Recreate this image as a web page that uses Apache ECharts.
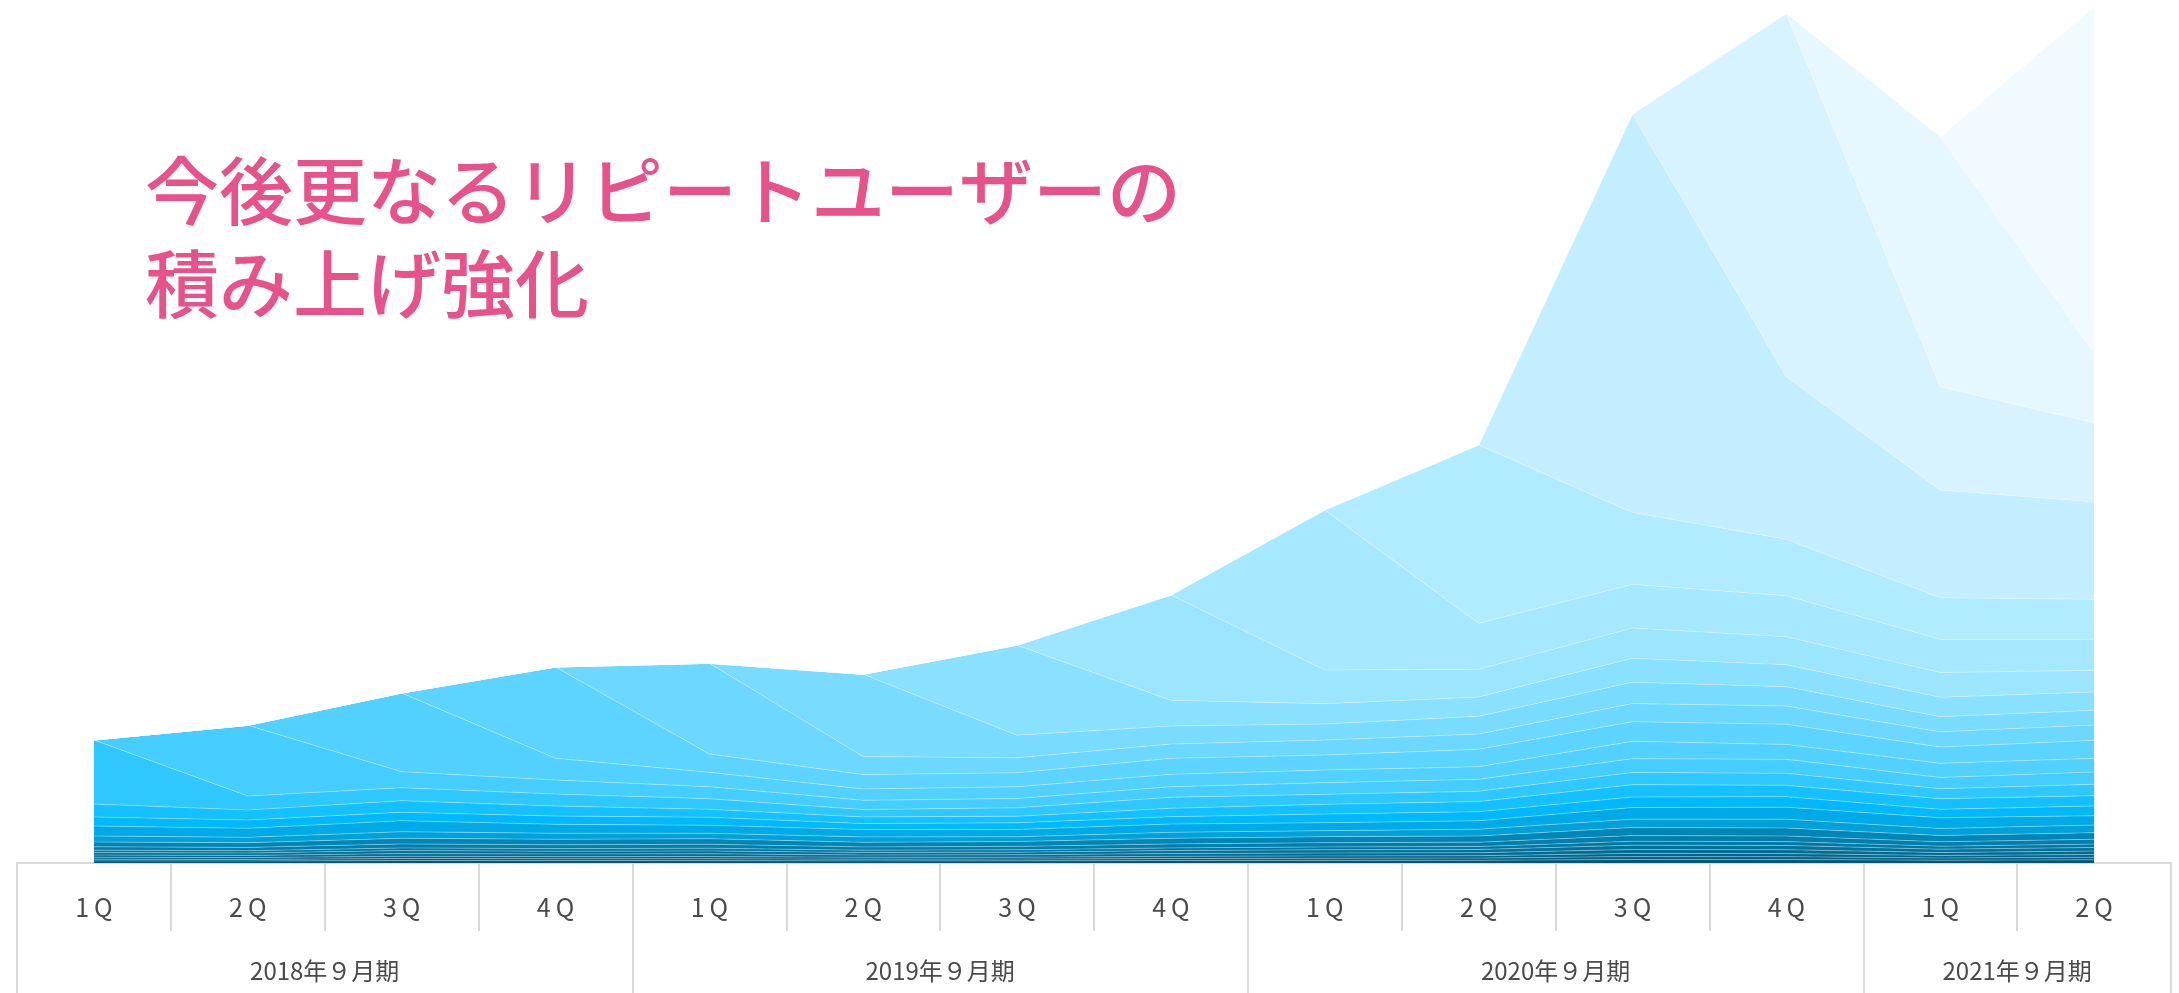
<!DOCTYPE html>
<html lang="ja">
<head>
<meta charset="utf-8">
<title>リピートユーザーの積み上げ</title>
<script src="https://cdn.jsdelivr.net/npm/echarts@6/dist/echarts.min.js"></script>
<style>
  html, body { margin: 0; padding: 0; background: #ffffff; }
  #chart { width: 2179px; height: 993px; }
</style>
</head>
<body>
<div id="chart"></div>
<script>
// ---- 軸ラベル ----
const quarters = ['1Q','2Q','3Q','4Q','1Q','2Q','3Q','4Q','1Q','2Q','3Q','4Q','1Q','2Q'];
const fiscalYears = ['2018年９月期', '2019年９月期', '2020年９月期', '2021年９月期'];
const quartersPerYear = [4, 4, 4, 2];

// ---- 2018年9月期より前に獲得したユーザー層（下から順） ----
const earlier01 = [2.1, 2.0, 2.5, 2.4, 2.4, 2.1, 2.2, 2.5, 2.6, 2.7, 3.6, 3.5, 2.8, 3.2];
const earlier02 = [1.7, 1.6, 2.0, 1.9, 1.9, 1.7, 1.7, 2.0, 2.1, 2.2, 2.8, 2.8, 2.2, 2.5];
const earlier03 = [1.9, 1.8, 2.2, 2.1, 2.2, 1.9, 1.9, 2.2, 2.4, 2.4, 3.2, 3.1, 2.5, 2.8];
const earlier04 = [2.3, 2.2, 2.7, 2.6, 2.7, 2.3, 2.4, 2.7, 2.9, 3.0, 3.9, 3.9, 3.0, 3.4];
const earlier05 = [2.5, 2.4, 3.0, 2.8, 2.9, 2.5, 2.6, 3.0, 3.2, 3.2, 4.3, 4.2, 3.3, 3.6];
const earlier06 = [2.3, 2.3, 2.7, 2.6, 2.7, 2.3, 2.4, 2.7, 2.9, 3.0, 3.9, 3.9, 3.0, 3.4];
const earlier07 = [3.4, 3.3, 4.0, 3.8, 3.9, 3.3, 3.4, 4.0, 4.2, 4.3, 5.7, 5.6, 4.4, 4.8];
const earlier08 = [4.8, 4.7, 5.6, 5.5, 5.6, 4.6, 4.9, 5.6, 6.0, 6.2, 8.1, 8.0, 6.3, 6.6];
const earlier09 = [6.0, 5.4, 6.6, 6.0, 5.4, 5.4, 4.7, 6.0, 6.0, 6.8, 8.3, 8.8, 7.0, 7.7];
const earlier10 = [10.0, 9.0, 11.0, 9.0, 8.0, 7.3, 7.3, 8.3, 8.0, 8.4, 11.7, 12.0, 10.8, 9.3];
const earlier11 = [9.0, 8.3, 8.4, 8.3, 8.0, 6.0, 6.7, 7.3, 8.7, 9.1, 10.5, 10.5, 8.4, 9.7];
const earlier12 = [13.0, 10.0, 11.6, 10.0, 8.0, 6.7, 6.6, 8.4, 9.7, 10.2, 12.3, 11.4, 10.6, 10.3];

// ---- 四半期ごとの新規獲得コホート ----
const fy18q1 = [64, 14, 13, 12, 10.6, 7.3, 8.4, 11, 10, 10.3, 12.2, 12, 10, 11.4];
const fy18q2 = [0, 70.7, 16, 14, 12, 9.3, 9.3, 10.6, 11.6, 11.9, 13.8, 14, 11.2, 12.3];
const fy18q3 = [0, 0, 78.7, 21.7, 14.4, 11.4, 11.7, 12.4, 12.7, 12.6, 17.4, 14.9, 14.2, 13.7];
const fy18q4 = [0, 0, 0, 91.3, 18.3, 14.3, 14, 16, 15, 17.4, 19.6, 20.2, 16.3, 18];
const fy19q1 = [0, 0, 0, 0, 90.7, 18, 15, 14.3, 15, 15.3, 18.2, 18.2, 15.2, 15.3];
const fy19q2 = [0, 0, 0, 0, 0, 82.3, 22.6, 18, 16, 17.7, 21.3, 19.3, 15.1, 14.7];
const fy19q3 = [0, 0, 0, 0, 0, 0, 90, 25.7, 20.3, 19.3, 24, 22, 19.5, 18.3];
const fy19q4 = [0, 0, 0, 0, 0, 0, 0, 105.3, 33.7, 27.7, 30.2, 28, 24.7, 21.7];
const fy20q1 = [0, 0, 0, 0, 0, 0, 0, 0, 160, 46, 43.7, 41, 33.2, 31];
const fy20q2 = [0, 0, 0, 0, 0, 0, 0, 0, 0, 178.3, 71.8, 56.4, 41.6, 40];
const fy20q3 = [0, 0, 0, 0, 0, 0, 0, 0, 0, 0, 398.5, 162.6, 107.7, 97.3];
const fy20q4 = [0, 0, 0, 0, 0, 0, 0, 0, 0, 0, 0, 363.2, 103.3, 79];
const fy21q1 = [0, 0, 0, 0, 0, 0, 0, 0, 0, 0, 0, 0, 250, 70];
const fy21q2 = [0, 0, 0, 0, 0, 0, 0, 0, 0, 0, 0, 0, 0, 346];

// 積み上げ順（古い層が下）
const cohorts = [
  ['既存層01', earlier01], ['既存層02', earlier02], ['既存層03', earlier03],
  ['既存層04', earlier04], ['既存層05', earlier05], ['既存層06', earlier06],
  ['既存層07', earlier07], ['既存層08', earlier08], ['既存層09', earlier09],
  ['既存層10', earlier10], ['既存層11', earlier11], ['既存層12', earlier12],
  ['2018年９月期 1Q', fy18q1], ['2018年９月期 2Q', fy18q2],
  ['2018年９月期 3Q', fy18q3], ['2018年９月期 4Q', fy18q4],
  ['2019年９月期 1Q', fy19q1], ['2019年９月期 2Q', fy19q2],
  ['2019年９月期 3Q', fy19q3], ['2019年９月期 4Q', fy19q4],
  ['2020年９月期 1Q', fy20q1], ['2020年９月期 2Q', fy20q2],
  ['2020年９月期 3Q', fy20q3], ['2020年９月期 4Q', fy20q4],
  ['2021年９月期 1Q', fy21q1], ['2021年９月期 2Q', fy21q2]
];

// 層の色：古い層ほど濃く、新しい層ほど淡い水色
const palette = [
  '#00587a', '#005f84', '#00668c', '#006d95', '#00739d', '#0078a5',
  '#007eac', '#0086b6', '#00a0d9', '#00aae8', '#00b8fc', '#14c0ff',
  '#2ec8ff', '#45cdff', '#52d1ff', '#5dd4ff', '#6cd8ff', '#78dbff',
  '#8ae0ff', '#9be5ff', '#a6e8ff', '#b1ebff', '#c2eeff', '#d6f3ff',
  '#e6f7ff', '#f0faff'
];

// 年度の区切り位置と中央位置
const yearBounds = [0];
quartersPerYear.forEach(n => yearBounds.push(yearBounds[yearBounds.length - 1] + n));
const yearCenters = quartersPerYear.map((n, i) => yearBounds[i] + n / 2);

const FONT = '"Noto Sans CJK JP", "Noto Sans", sans-serif';
const GRID_LINE = '#d9d9d9';
const LABEL_COLOR = '#4a4a4a';

const chart = echarts.init(document.getElementById('chart'), null, { renderer: 'canvas' });

chart.setOption({
  animation: false,
  backgroundColor: '#ffffff',
  title: {
    text: '今後更なるリピートユーザーの\n積み上げ強化',
    left: 140,
    top: 139,
    textStyle: {
      color: '#e8528a',
      fontSize: 74,
      lineHeight: 93,
      fontWeight: 500,
      fontFamily: FONT
    }
  },
  grid: { left: 17, right: 8, top: 3, bottom: 130 },
  xAxis: [
    {
      type: 'category',
      data: quarters,
      boundaryGap: true,
      position: 'bottom',
      axisLine: { show: true, lineStyle: { color: GRID_LINE, width: 2 } },
      axisTick: { show: true, interval: 0, length: 68, lineStyle: { color: GRID_LINE, width: 2 } },
      axisLabel: {
        interval: 0,
        margin: 32,
        fontSize: 25,
        color: LABEL_COLOR,
        fontFamily: FONT,
        formatter: v => v.split('').join('\u2009')
      },
      splitLine: { show: false }
    },
    {
      type: 'value',
      min: yearBounds[0],
      max: yearBounds[yearBounds.length - 1],
      position: 'bottom',
      axisLine: { show: false },
      splitLine: { show: false },
      axisTick: {
        show: true,
        customValues: yearBounds,
        length: 140,
        lineStyle: { color: GRID_LINE, width: 2 }
      },
      axisLabel: {
        show: true,
        customValues: yearCenters,
        margin: 96,
        fontSize: 24,
        color: LABEL_COLOR,
        fontFamily: FONT,
        formatter: v => {
          const i = yearCenters.indexOf(v);
          return i >= 0 ? fiscalYears[i] : '';
        }
      }
    }
  ],
  yAxis: { type: 'value', min: 0, max: 860, show: false },
  series: cohorts.map(([name, values], i) => ({
    name,
    type: 'line',
    stack: 'users',
    xAxisIndex: 0,
    data: values,
    symbol: 'none',
    showSymbol: false,
    silent: true,
    emphasis: { disabled: true },
    lineStyle: { width: 0.8, color: 'rgba(255,255,255,0.4)' },
    areaStyle: { color: palette[i], opacity: 1 }
  }))
});
</script>
</body>
</html>
